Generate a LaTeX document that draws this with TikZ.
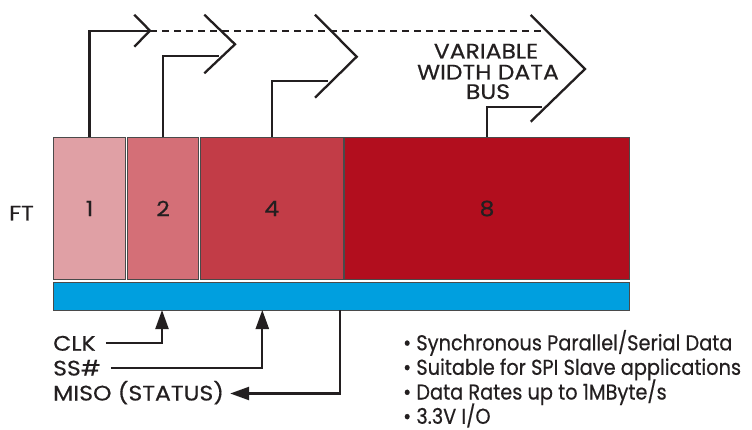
\documentclass[tikz,border=0pt]{standalone}
\usepackage{fontspec}
\setmainfont{Poppins}
\newfontfamily\capfont{Poppins}[FakeStretch=1.12,FakeBold=0.5]
\newfontfamily\txtfont{Poppins}[FakeStretch=0.9,FakeBold=0.5]
\usetikzlibrary{arrows.meta,calc}
\definecolor{cA}{HTML}{E0A0A5}
\definecolor{cB}{HTML}{D46F77}
\definecolor{cC}{HTML}{C23C47}
\definecolor{cD}{HTML}{B20E1E}
\definecolor{cbus}{HTML}{009FDF}
\definecolor{edge}{HTML}{4A4A4A}
\definecolor{ink}{HTML}{231F20}
\begin{document}
\begin{tikzpicture}[x=1pt,y=-1pt,
  cell/.style={draw=edge,line width=1pt,anchor=north west,minimum height=142pt,inner sep=0pt,text=ink,font=\capfont\fontsize{21}{24}\selectfont},
  wire/.style={draw=ink,line width=2.3pt},
  chev/.style={draw=ink,line width=2.3pt,line join=miter},
  dashline/.style={draw=ink,line width=2pt,dash pattern=on 7pt off 5pt},
  sig/.style={draw=ink,line width=2.3pt},
  tip/.style={-{Triangle[length=19pt,width=13pt]}},
  lbl/.style={text=ink,inner sep=0pt,font=\capfont\fontsize{21}{24}\selectfont},
  blt/.style={text=ink,inner sep=0pt,anchor=base west,font=\txtfont\fontsize{21.5}{24}\selectfont}]
\useasboundingbox (0,0) rectangle (752,430);
% boxes
\node[cell,fill=cA,minimum width=72pt] (b1) at (53,137) {1};
\node[cell,fill=cB,minimum width=71pt] (b2) at (127,137) {2};
\node[cell,fill=cC,minimum width=142.5pt] (b3) at (200,137) {4};
\node[cell,fill=cD,minimum width=285pt] (b4) at (344,137) {8};
\node[draw=edge,line width=1pt,fill=cbus,anchor=north west,minimum width=576pt,minimum height=28pt,inner sep=0pt] (bar) at (53,282) {};
\node[lbl,anchor=base west] (ft) at (9,220.5) {FT};
% top arrows
\coordinate (t1) at (150,30.7);
\coordinate (t2) at (235,44.3);
\coordinate (t3) at (356.7,56.7);
\coordinate (t4) at (585,69);
\coordinate (e2) at (219,55.7);
\coordinate (e3) at (328,80.7);
\coordinate (e4) at (542,106.7);
\coordinate (d4) at (544,30.7);
\draw[wire] (b1.north) |- (t1);
\draw[chev] (134.3,14.7) -- (t1) -- (134.3,46.7);
\draw[dashline] (t1) -- (d4);
\draw[wire] (b2.north) |- (e2);
\draw[chev] (204.3,14.7) -- (t2) -- (204.3,73.3);
\draw[wire] (b3.north) |- (e3);
\draw[chev] (315,14.7) -- (t3) -- (315,97.7);
\draw[wire] (b4.north) |- (e4);
\draw[chev] (530.7,15) -- (t4) -- (530.7,121.7);
\node[lbl,anchor=base] (v1) at (486,58.5) {VARIABLE};
\node[lbl,anchor=base] (v2) at (488,79.5) {WIDTH DATA};
\node[lbl,anchor=base] (v3) at (488,99) {BUS};
% bottom signals
\node[lbl,anchor=base west] (clk) at (53,350.7) {CLK};
\node[lbl,anchor=base west] (ss) at (53,375.5) {SS\#};
\node[lbl,anchor=base west] (miso) at (53,400.5) {MISO (STATUS)};
\coordinate (c1) at (162,310);
\coordinate (c2) at (262.3,310);
\coordinate (c3) at (340,310);
\draw[sig,tip] ($(clk.base east)+(10,-7.5)$) -| (c1);
\draw[sig,tip] ($(ss.base east)+(10,-7.5)$) -| (c2);
\draw[sig,tip] (c3) |- ($(miso.base east)+(6,-7)$);
% bullets
\node[blt] (l1) at (403,350.3) {• Synchronous Parallel/Serial Data};
\node[blt] (l2) at (403,374.8) {• Suitable for SPI Slave applications};
\node[blt] (l3) at (403,399.5) {• Data Rates up to 1MByte/s};
\node[blt] (l4) at (403,423.8) {• 3.3V I/O};
\end{tikzpicture}
\end{document}
